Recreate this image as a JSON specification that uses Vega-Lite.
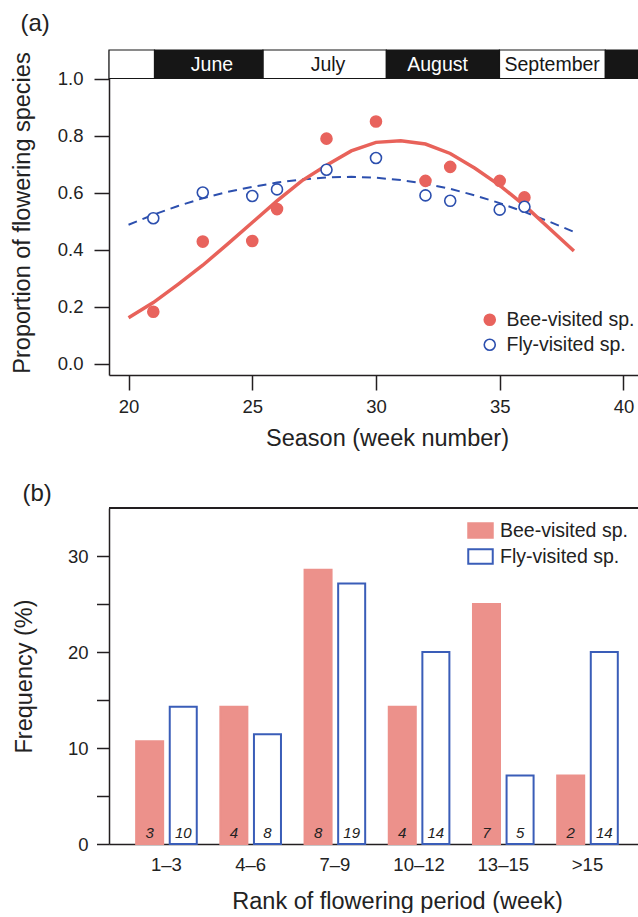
{
  "$schema": "https://vega.github.io/schema/vega-lite/v6.json",
  "padding": {"left": 10, "top": 12, "right": 0, "bottom": 0},
  "background": "white",
  "config": {
    "font": "Liberation Sans",
    "view": {"stroke": null},
    "axis": {
      "domainColor": "#231f20", "tickColor": "#231f20", "domainWidth": 1.5, "tickWidth": 1.5,
      "labelColor": "#222222", "titleColor": "#222222", "labelFontSize": 18.5, "titleFontSize": 23.5,
      "titleFontWeight": "normal", "grid": false, "labelFont": "Liberation Sans", "titleFont": "Liberation Sans"
    },
    "legend": {"labelFontSize": 19.5, "labelColor": "#222222", "labelFont": "Liberation Sans"},
    "title": {"fontSize": 24, "fontWeight": "normal", "anchor": "start", "frame": "bounds", "color": "#222222", "font": "Liberation Sans"}
  },
  "resolve": {
    "scale": {"fill": "independent", "stroke": "independent", "x": "independent", "y": "independent"},
    "legend": {"fill": "independent", "stroke": "independent"}
  },
  "datasets": {
    "months": [
      {"Month": "May", "Start": 19.21, "End": 21.05, "Center": 20.1},
      {"Month": "June", "Start": 21.05, "End": 25.43, "Center": 23.37},
      {"Month": "July", "Start": 25.43, "End": 30.42, "Center": 28.06},
      {"Month": "August", "Start": 30.42, "End": 34.99, "Center": 32.49},
      {"Month": "September", "Start": 34.99, "End": 39.27, "Center": 37.12},
      {"Month": "October", "Start": 39.27, "End": 40.63, "Center": 40.0}
    ],
    "points": [
      {"Week": 21, "Proportion": 0.182, "Group": "Bee-visited sp."},
      {"Week": 23, "Proportion": 0.428, "Group": "Bee-visited sp."},
      {"Week": 25, "Proportion": 0.430, "Group": "Bee-visited sp."},
      {"Week": 26, "Proportion": 0.542, "Group": "Bee-visited sp."},
      {"Week": 28, "Proportion": 0.789, "Group": "Bee-visited sp."},
      {"Week": 30, "Proportion": 0.849, "Group": "Bee-visited sp."},
      {"Week": 32, "Proportion": 0.641, "Group": "Bee-visited sp."},
      {"Week": 33, "Proportion": 0.690, "Group": "Bee-visited sp."},
      {"Week": 35, "Proportion": 0.641, "Group": "Bee-visited sp."},
      {"Week": 36, "Proportion": 0.583, "Group": "Bee-visited sp."},
      {"Week": 21, "Proportion": 0.510, "Group": "Fly-visited sp."},
      {"Week": 23, "Proportion": 0.600, "Group": "Fly-visited sp."},
      {"Week": 25, "Proportion": 0.588, "Group": "Fly-visited sp."},
      {"Week": 26, "Proportion": 0.611, "Group": "Fly-visited sp."},
      {"Week": 28, "Proportion": 0.680, "Group": "Fly-visited sp."},
      {"Week": 30, "Proportion": 0.721, "Group": "Fly-visited sp."},
      {"Week": 32, "Proportion": 0.590, "Group": "Fly-visited sp."},
      {"Week": 33, "Proportion": 0.571, "Group": "Fly-visited sp."},
      {"Week": 35, "Proportion": 0.540, "Group": "Fly-visited sp."},
      {"Week": 36, "Proportion": 0.550, "Group": "Fly-visited sp."}
    ],
    "beeFit": [
      {"Week": 20, "Value": 0.161}, {"Week": 21, "Value": 0.214}, {"Week": 22, "Value": 0.278},
      {"Week": 23, "Value": 0.345}, {"Week": 24, "Value": 0.419}, {"Week": 25, "Value": 0.495},
      {"Week": 26, "Value": 0.571}, {"Week": 27, "Value": 0.641}, {"Week": 28, "Value": 0.696},
      {"Week": 29, "Value": 0.746}, {"Week": 30, "Value": 0.776}, {"Week": 31, "Value": 0.782},
      {"Week": 32, "Value": 0.770}, {"Week": 33, "Value": 0.737}, {"Week": 34, "Value": 0.685},
      {"Week": 35, "Value": 0.625}, {"Week": 36, "Value": 0.555}, {"Week": 37, "Value": 0.475},
      {"Week": 38, "Value": 0.395}
    ],
    "flyFit": [
      {"Week": 20, "Value": 0.487}, {"Week": 21, "Value": 0.522}, {"Week": 22, "Value": 0.553},
      {"Week": 23, "Value": 0.580}, {"Week": 24, "Value": 0.602}, {"Week": 25, "Value": 0.620},
      {"Week": 26, "Value": 0.635}, {"Week": 27, "Value": 0.646}, {"Week": 28, "Value": 0.653},
      {"Week": 29, "Value": 0.655}, {"Week": 30, "Value": 0.652}, {"Week": 31, "Value": 0.644},
      {"Week": 32, "Value": 0.631}, {"Week": 33, "Value": 0.613}, {"Week": 34, "Value": 0.590},
      {"Week": 35, "Value": 0.563}, {"Week": 36, "Value": 0.532}, {"Week": 37, "Value": 0.498},
      {"Week": 38, "Value": 0.462}
    ],
    "freq": [
      {"Rank": "1–3", "Group": "Bee-visited sp.", "Percent": 10.71, "Count": 3},
      {"Rank": "1–3", "Group": "Fly-visited sp.", "Percent": 14.29, "Count": 10},
      {"Rank": "4–6", "Group": "Bee-visited sp.", "Percent": 14.29, "Count": 4},
      {"Rank": "4–6", "Group": "Fly-visited sp.", "Percent": 11.43, "Count": 8},
      {"Rank": "7–9", "Group": "Bee-visited sp.", "Percent": 28.57, "Count": 8},
      {"Rank": "7–9", "Group": "Fly-visited sp.", "Percent": 27.14, "Count": 19},
      {"Rank": "10–12", "Group": "Bee-visited sp.", "Percent": 14.29, "Count": 4},
      {"Rank": "10–12", "Group": "Fly-visited sp.", "Percent": 20.0, "Count": 14},
      {"Rank": "13–15", "Group": "Bee-visited sp.", "Percent": 25.0, "Count": 7},
      {"Rank": "13–15", "Group": "Fly-visited sp.", "Percent": 7.14, "Count": 5},
      {"Rank": ">15", "Group": "Bee-visited sp.", "Percent": 7.14, "Count": 2},
      {"Rank": ">15", "Group": "Fly-visited sp.", "Percent": 20.0, "Count": 14}
    ]
  },
  "spacing": 32,
  "vconcat": [
    {
      "width": 530,
      "height": 325,
      "title": {"text": "(a)", "dx": 10, "offset": 13},
      "layer": [
        {
          "data": {"name": "months"},
          "transform": [{"filter": {"field": "Month", "oneOf": ["May", "July", "September"]}}],
          "mark": {"type": "rect", "fill": "white", "stroke": "#161616", "strokeWidth": 1.2},
          "encoding": {
            "x": {
              "field": "Start", "type": "quantitative",
              "scale": {"domain": [19.21, 40.63], "nice": false, "zero": false},
              "axis": {"values": [20, 25, 30, 35, 40], "tickSize": 15, "labelPadding": 7, "titlePadding": 11, "titleX": 278},
              "title": "Season (week number)"
            },
            "x2": {"field": "End"},
            "y": {
              "datum": 1.0, "type": "quantitative",
              "scale": {"domain": [-0.04, 1.1], "nice": false, "zero": false},
              "axis": {"values": [0, 0.2, 0.4, 0.6, 0.8, 1.0], "format": ".1f", "tickSize": 15, "labelPadding": 11, "titlePadding": 19.5, "minExtent": 55, "maxExtent": 55},
              "title": "Proportion of flowering species"
            },
            "y2": {"datum": 1.1}
          }
        },
        {
          "data": {"name": "months"},
          "transform": [{"filter": {"field": "Month", "oneOf": ["June", "August", "October"]}}],
          "mark": {"type": "rect", "fill": "#161616", "stroke": "#161616", "strokeWidth": 1.2},
          "encoding": {
            "x": {"field": "Start", "type": "quantitative", "title": "Season (week number)"},
            "x2": {"field": "End"},
            "y": {"datum": 1.0, "title": "Proportion of flowering species"},
            "y2": {"datum": 1.1}
          }
        },
        {
          "data": {"name": "months"},
          "transform": [{"filter": {"field": "Month", "oneOf": ["June", "August"]}}],
          "mark": {"type": "text", "color": "white", "fontSize": 19.5, "baseline": "middle", "dy": 1},
          "encoding": {
            "x": {"field": "Center", "type": "quantitative", "title": "Season (week number)"},
            "y": {"datum": 1.05, "title": "Proportion of flowering species"},
            "text": {"field": "Month"}
          }
        },
        {
          "data": {"name": "months"},
          "transform": [{"filter": {"field": "Month", "oneOf": ["July", "September"]}}],
          "mark": {"type": "text", "color": "#161616", "fontSize": 19.5, "baseline": "middle", "dy": 1},
          "encoding": {
            "x": {"field": "Center", "type": "quantitative", "title": "Season (week number)"},
            "y": {"datum": 1.05, "title": "Proportion of flowering species"},
            "text": {"field": "Month"}
          }
        },
        {
          "data": {"name": "flyFit"},
          "mark": {"type": "line", "color": "#2C4FAE", "strokeWidth": 2, "strokeDash": [9, 6]},
          "encoding": {
            "x": {"field": "Week", "type": "quantitative", "title": "Season (week number)"},
            "y": {"field": "Value", "type": "quantitative", "title": "Proportion of flowering species"}
          }
        },
        {
          "data": {"name": "beeFit"},
          "mark": {"type": "line", "color": "#E8625A", "strokeWidth": 3.5},
          "encoding": {
            "x": {"field": "Week", "type": "quantitative", "title": "Season (week number)"},
            "y": {"field": "Value", "type": "quantitative", "title": "Proportion of flowering species"}
          }
        },
        {
          "data": {"name": "points"},
          "mark": {"type": "point", "shape": "circle", "size": 121, "strokeWidth": 1.6, "opacity": 1},
          "encoding": {
            "x": {"field": "Week", "type": "quantitative", "title": "Season (week number)"},
            "y": {"field": "Proportion", "type": "quantitative", "title": "Proportion of flowering species"},
            "fill": {
              "field": "Group", "type": "nominal",
              "scale": {"domain": ["Bee-visited sp.", "Fly-visited sp."], "range": ["#E8635D", "#ffffff"]},
              "legend": {"title": null, "orient": "none", "legendX": 371, "legendY": 260, "symbolType": "circle", "symbolSize": 121, "symbolStrokeWidth": 1.6, "labelOffset": 7, "rowPadding": 4, "padding": 0}
            },
            "stroke": {
              "field": "Group", "type": "nominal",
              "scale": {"domain": ["Bee-visited sp.", "Fly-visited sp."], "range": ["#E8635D", "#2C4FAE"]},
              "legend": {"title": null, "orient": "none", "legendX": 371, "legendY": 260, "symbolType": "circle", "symbolSize": 121, "symbolStrokeWidth": 1.6, "labelOffset": 7, "rowPadding": 4, "padding": 0}
            }
          }
        }
      ]
    },
    {
      "width": 530,
      "height": 336,
      "title": {"text": "(b)", "dx": 10, "offset": 1},
      "data": {"name": "freq"},
      "layer": [
        {
          "mark": {"type": "rule", "color": "#231f20", "strokeWidth": 1.5},
          "encoding": {"y": {"datum": 35, "type": "quantitative", "title": "Frequency (%)"}}
        },
        {
          "mark": {"type": "bar", "strokeWidth": 2},
          "encoding": {
            "x": {
              "field": "Rank", "type": "nominal",
              "sort": ["1–3", "4–6", "7–9", "10–12", "13–15", ">15"],
              "scale": {"paddingInner": 0, "paddingOuter": 0.147, "align": 0.62},
              "axis": {"labelAngle": 0, "ticks": false, "labelPadding": 11, "titlePadding": 16, "titleX": 288},
              "title": "Rank of flowering period (week)"
            },
            "xOffset": {
              "field": "Group", "type": "nominal",
              "scale": {"paddingInner": 0.196, "paddingOuter": 0.351}
            },
            "y": {
              "field": "Percent", "type": "quantitative",
              "scale": {"domain": [0, 35], "nice": false},
              "axis": {"values": [0, 5, 10, 15, 20, 25, 30], "labelExpr": "datum.value % 10 === 0 ? datum.label : ''", "tickSize": 12.5, "labelPadding": 8.5, "titlePadding": 17.5, "minExtent": 55, "maxExtent": 55},
              "title": "Frequency (%)"
            },
            "fill": {
              "field": "Group", "type": "nominal",
              "scale": {"domain": ["Bee-visited sp.", "Fly-visited sp."], "range": ["#EC918B", "#ffffff"]},
              "legend": {"title": null, "orient": "none", "legendX": 358, "legendY": 9, "symbolType": "M-1,-0.6H1V0.6H-1Z", "symbolSize": 600, "symbolStrokeWidth": 2, "labelOffset": 6, "rowPadding": 1, "padding": 0}
            },
            "stroke": {
              "field": "Group", "type": "nominal",
              "scale": {"domain": ["Bee-visited sp.", "Fly-visited sp."], "range": ["#EC918B", "#3A5DB8"]},
              "legend": {"title": null, "orient": "none", "legendX": 358, "legendY": 9, "symbolType": "M-1,-0.6H1V0.6H-1Z", "symbolSize": 600, "symbolStrokeWidth": 2, "labelOffset": 6, "rowPadding": 1, "padding": 0}
            }
          }
        },
        {
          "mark": {"type": "text", "fontStyle": "italic", "fontSize": 15, "baseline": "alphabetic", "dy": -6, "color": "#222222"},
          "encoding": {
            "x": {"field": "Rank", "type": "nominal", "sort": ["1–3", "4–6", "7–9", "10–12", "13–15", ">15"], "title": "Rank of flowering period (week)"},
            "xOffset": {"field": "Group", "type": "nominal"},
            "y": {"datum": 0, "type": "quantitative", "title": "Frequency (%)"},
            "text": {"field": "Count"}
          }
        }
      ]
    }
  ]
}
